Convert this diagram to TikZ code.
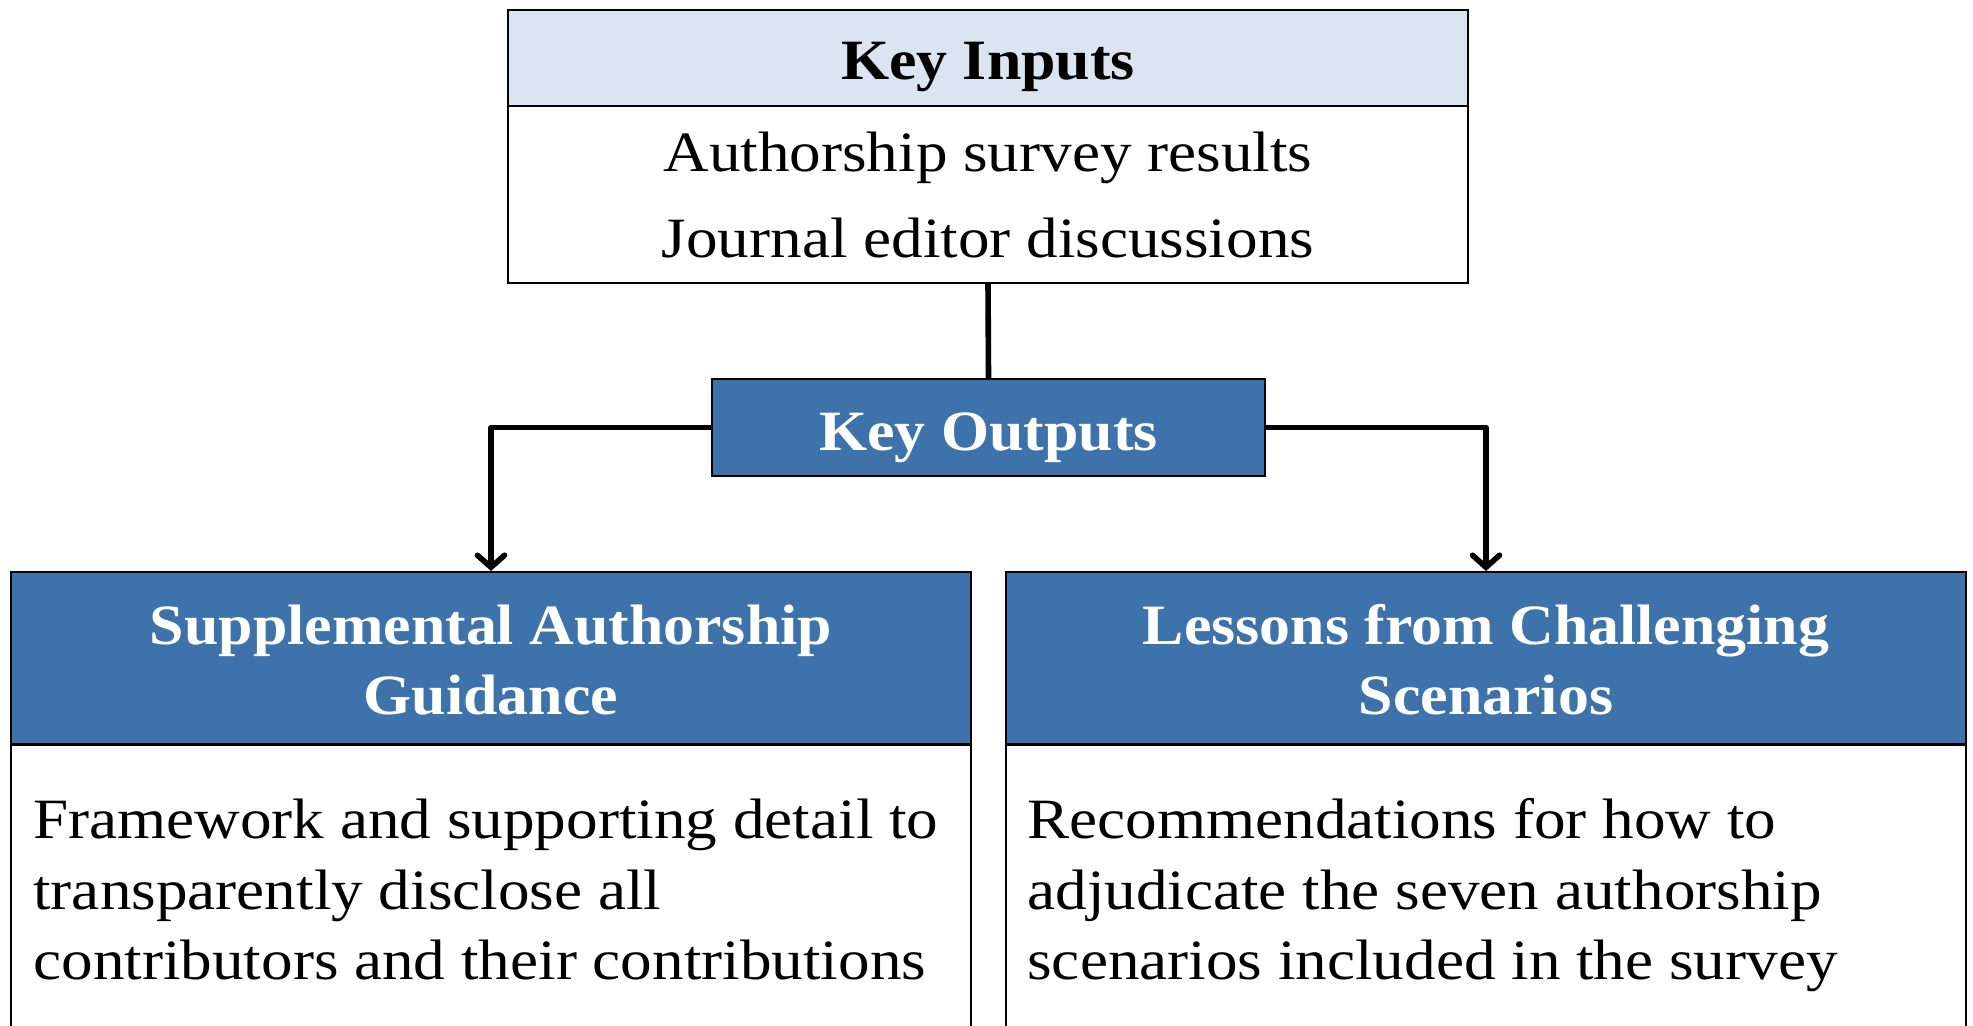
\documentclass[tikz,border=0pt]{standalone}
\usepackage{fontspec}
\setmainfont{Liberation Serif}[FakeStretch=1.108, BoldFeatures={FakeStretch=1.085}]
\usetikzlibrary{arrows.meta}
\definecolor{hdrblue}{HTML}{3E72AA}
\definecolor{lightblue}{HTML}{DAE5F1}
\tikzset{
  box/.style={draw=black, line width=1pt, inner sep=0pt, rectangle},
  conn/.style={draw=black, line width=2.8pt, line join=round},
  arr/.style={-{Straight Barb[length=6pt,width=13.5pt,line cap=round]}},
  txt/.style={inner sep=0pt, font=\fontsize{28.5pt}{34pt}\selectfont},
  btxt/.style={txt, font=\fontsize{28.5pt}{34pt}\selectfont\bfseries},
}
\begin{document}
\begin{tikzpicture}[x=0.5pt,y=-0.5pt]
\useasboundingbox[fill=white] (0,0) rectangle (1973,1026);
% Key Inputs
\node[box, fill=lightblue, minimum width=480pt, minimum height=48pt] (kih) at (988,58) {};
\node[box, fill=white, minimum width=480pt, minimum height=88.5pt] (kib) at (988,194.5) {};
\node[btxt, anchor=base] (kit) at (988,80) {Key Inputs};
\node[txt, anchor=base] (ki1) at (988,172) {Authorship survey results};
\node[txt, anchor=base] (ki2) at (988,258) {Journal editor discussions};
% Key Outputs
\node[box, fill=hdrblue, minimum width=276.5pt, minimum height=48.5pt] (ko) at (988.5,427.5) {};
\node[btxt, text=white, anchor=base] (kot) at (988.5,450) {Key Outputs};
% Left
\node[box, fill=hdrblue, minimum width=480pt, minimum height=86pt] (lh) at (491,658) {};
\node[box, fill=white, minimum width=480pt, minimum height=150pt, anchor=north] (lb) at (491,744) {};
\node[btxt, text=white, anchor=base] (lh1) at (491,644) {Supplemental Authorship};
\node[btxt, text=white, anchor=base] (lh2) at (491,714) {Guidance};
\node[txt, anchor=base west] (lb1) at (33,838) {Framework and supporting detail to};
\node[txt, anchor=base west] (lb2) at (33,909) {transparently disclose all};
\node[txt, anchor=base west] (lb3) at (33,979) {contributors and their contributions};
% Right
\node[box, fill=hdrblue, minimum width=480pt, minimum height=86pt] (rh) at (1486,658) {};
\node[box, fill=white, minimum width=480pt, minimum height=150pt, anchor=north] (rb) at (1486,744) {};
\node[btxt, text=white, anchor=base] (rh1) at (1486,644) {Lessons from Challenging};
\node[btxt, text=white, anchor=base] (rh2) at (1486,714) {Scenarios};
\node[txt, anchor=base west] (rb1) at (1027,838) {Recommendations for how to};
\node[txt, anchor=base west] (rb2) at (1027,909) {adjudicate the seven authorship};
\node[txt, anchor=base west] (rb3) at (1027,979) {scenarios included in the survey};
% connectors
\draw[conn] (kib.south) -- (ko.north);
\draw[conn, arr] (ko.west) -| (lh.north);
\draw[conn, arr] (ko.east) -| (rh.north);
\end{tikzpicture}
\end{document}
